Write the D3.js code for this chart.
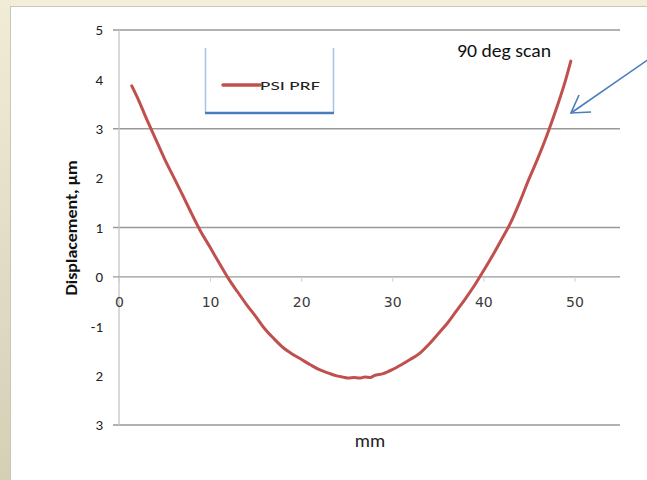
<!DOCTYPE html>
<html>
<head>
<meta charset="utf-8">
<script src="https://cdn.jsdelivr.net/npm/d3@7"></script>
<style>
  html, body { margin: 0; padding: 0; background: #f2eddb; }
  svg { display: block; }
  svg text { font-family: Carlito, Lato, "Open Sans", sans-serif; }
  svg text.xlab { font-family: "DejaVu Sans", sans-serif; }
</style>
</head>
<body>
<svg id="chart" width="647" height="480"></svg>
<script>
// Surface profile of the 90 degree scan: position (mm) vs displacement (µm)
const positionMm = [1.4, 2, 3, 4, 5, 6, 7, 8, 9, 10, 11, 12, 13, 14, 15, 16, 17, 18, 19, 20,
  21, 22, 23, 24, 24.6, 25.2, 25.8, 26.4, 27, 27.6, 28, 29, 30, 31, 32, 33, 34, 35, 36, 37, 38,
  39, 40, 41, 42, 43, 44, 45, 46, 47, 48, 49, 49.6];
const displacementUm = [3.87, 3.64, 3.21, 2.80, 2.39, 2.02, 1.65, 1.27, 0.91, 0.60, 0.28, -0.03,
  -0.30, -0.56, -0.80, -1.05, -1.25, -1.43, -1.56, -1.67, -1.78, -1.88, -1.95, -2.01, -2.03,
  -2.05, -2.04, -2.05, -2.03, -2.04, -2.00, -1.96, -1.88, -1.78, -1.67, -1.55, -1.37, -1.16,
  -0.95, -0.70, -0.45, -0.18, 0.12, 0.43, 0.76, 1.10, 1.52, 1.98, 2.41, 2.88, 3.40, 3.97, 4.37];

const xTicks = [0, 10, 20, 30, 40, 50];
const yTicks = [5, 4, 3, 2, 1, 0, -1, -2, -3];
const yTickLabels = ["5", "4", "3", "2", "1", "0", "-1", "2", "3"];
const gridValues = [5, 3, 1];
const seriesName = "PSI  PRF";
const annotation = "90 deg scan";

const svg = d3.select("#chart");
const W = 647, H = 480;

// Slide background: beige frame with a soft gradient on the left edge
const defs = svg.append("defs");
const lg = defs.append("linearGradient").attr("id", "edge").attr("x1", 0).attr("y1", 0).attr("x2", 0).attr("y2", 1);
lg.append("stop").attr("offset", "0%").attr("stop-color", "#f1ecd6");
lg.append("stop").attr("offset", "100%").attr("stop-color", "#d3d0b6");
svg.append("rect").attr("width", W).attr("height", H).attr("fill", "#f3eed9");
svg.append("rect").attr("x", 0).attr("y", 0).attr("width", 11).attr("height", H).attr("fill", "url(#edge)");

// White chart panel
svg.append("rect").attr("x", 10.5).attr("y", 6.5).attr("width", W).attr("height", H)
  .attr("fill", "#ffffff").attr("stroke", "#c9c7bd").attr("stroke-width", 1);

const x = d3.scaleLinear().domain([0, 55]).range([119, 620]);
const y = d3.scaleLinear().domain([-3, 5]).range([425, 30]);

// Horizontal grid lines
svg.append("g").selectAll("line").data(gridValues).join("line")
  .attr("x1", 113).attr("x2", x(55))
  .attr("y1", d => y(d)).attr("y2", d => y(d))
  .attr("stroke", "#999999").attr("stroke-width", 1.3);

// Bottom frame line at the axis minimum
svg.append("line").attr("x1", 113).attr("x2", x(55)).attr("y1", y(-3)).attr("y2", y(-3))
  .attr("stroke", "#999999").attr("stroke-width", 1.3);

// Vertical axis line
svg.append("line").attr("x1", x(0)).attr("x2", x(0)).attr("y1", y(5)).attr("y2", y(-3))
  .attr("stroke", "#c4c4c4").attr("stroke-width", 1.3);

// Horizontal axis through zero, with its tick marks and labels
const xAxis = d3.axisBottom(x).tickValues(xTicks).tickSize(5).tickSizeOuter(0).tickFormat(d3.format("d"));
const gx = svg.append("g").attr("transform", `translate(0,${y(0)})`).call(xAxis);
gx.select(".domain").attr("d", `M113,0H${x(55)}`).attr("stroke", "#999999").attr("stroke-width", 1.3);
gx.selectAll(".tick line").attr("stroke", "#cfcfcf");
gx.selectAll(".tick text").attr("class", "xlab").attr("dy", 0).attr("y", 30)
  .style("font-size", "14px").attr("fill", "#3a3a3a");

// Vertical axis labels
const yAxis = d3.axisLeft(y).tickValues(yTicks).tickSize(0)
  .tickFormat((d, i) => yTickLabels[i]);
const gy = svg.append("g").attr("transform", `translate(${x(0)},0)`).call(yAxis);
gy.select(".domain").remove();
gy.selectAll(".tick text").attr("x", -16).style("font-size", "15px").attr("fill", "#222");

// Axis titles
svg.append("text").attr("transform", `translate(77,${228}) rotate(-90)`)
  .attr("text-anchor", "middle").attr("font-size", 15).attr("font-weight", "bold").attr("fill", "#111")
  .attr("textLength", 135).attr("lengthAdjust", "spacingAndGlyphs")
  .text("Displacement, µm");
svg.append("text").attr("x", 370).attr("y", 447).attr("text-anchor", "middle")
  .attr("font-size", 19).attr("fill", "#222").text("mm");

// Profile curve
const line = d3.line().x((d, i) => x(positionMm[i])).y(d => y(d)).curve(d3.curveMonotoneX);
svg.append("path").datum(displacementUm).attr("d", line)
  .attr("fill", "none").attr("stroke", "#c0504d").attr("stroke-width", 3)
  .attr("stroke-linejoin", "round").attr("stroke-linecap", "round");

// Legend box
const lgX0 = 205.5, lgX1 = 333.5, lgY0 = 48, lgY1 = 113;
svg.append("line").attr("x1", lgX0).attr("x2", lgX0).attr("y1", lgY0).attr("y2", lgY1).attr("stroke", "#a8c2e6").attr("stroke-width", 1.5);
svg.append("line").attr("x1", lgX1).attr("x2", lgX1).attr("y1", lgY0).attr("y2", lgY1).attr("stroke", "#a8c2e6").attr("stroke-width", 1.5);
svg.append("line").attr("x1", lgX0 - 0.5).attr("x2", lgX1 + 0.5).attr("y1", lgY1).attr("y2", lgY1).attr("stroke", "#4a7ebb").attr("stroke-width", 2.5);
svg.append("line").attr("x1", 223).attr("x2", 260).attr("y1", 85).attr("y2", 85)
  .attr("stroke", "#c0504d").attr("stroke-width", 3.5).attr("stroke-linecap", "round");
svg.append("text").attr("x", 260).attr("y", 90).attr("font-size", 13).attr("fill", "#222")
  .attr("textLength", 60).attr("lengthAdjust", "spacingAndGlyphs").text(seriesName);

// Annotation and arrow pointing at the curve
svg.append("text").attr("x", 457).attr("y", 57).attr("font-size", 18).attr("fill", "#111")
  .attr("textLength", 94).attr("lengthAdjust", "spacingAndGlyphs").text(annotation);
const tip = [571, 113];
svg.append("line").attr("x1", 662).attr("y1", 50).attr("x2", tip[0]).attr("y2", tip[1])
  .attr("stroke", "#4a7ebb").attr("stroke-width", 1.6);
svg.append("path").attr("d", `M579,95 L${tip[0]},${tip[1]} L591,112`)
  .attr("fill", "none").attr("stroke", "#4a7ebb").attr("stroke-width", 1.6).attr("stroke-linejoin", "miter");
</script>
</body>
</html>
